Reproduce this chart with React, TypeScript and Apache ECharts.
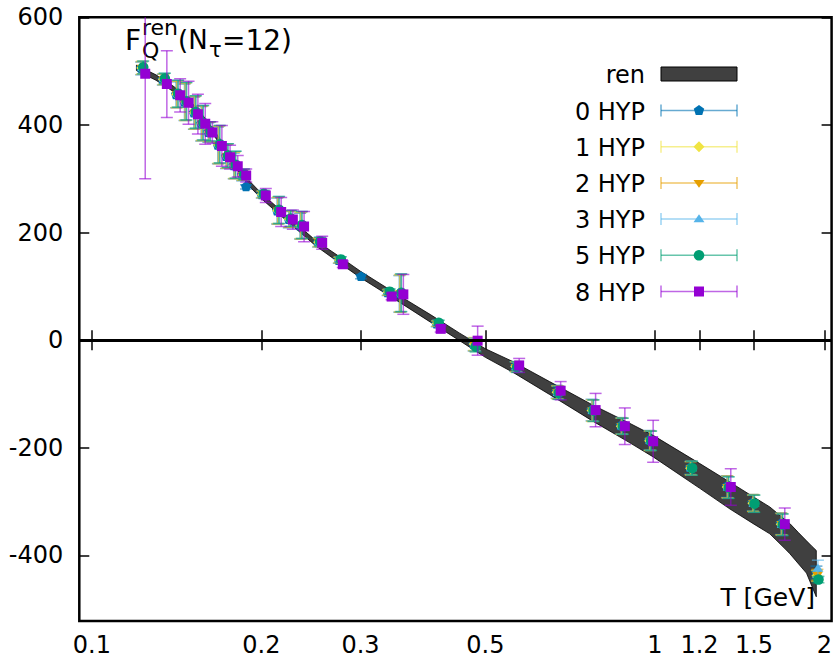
import { useEffect, useRef } from "react";
import * as echarts from "echarts";

// ---------------- data ----------------
const temperatures = [
  0.1244, 0.1359, 0.1435, 0.1485, 0.1543, 0.159, 0.1637, 0.1702, 0.176, 0.1816,
  0.188, 0.191, 0.2037, 0.2169, 0.2275, 0.2382, 0.2565, 0.2791, 0.3057, 0.3408,
  0.3575, 0.4165, 0.4844, 0.5741, 0.6802, 0.7847, 0.8844, 0.993, 1.174, 1.364,
  1.515, 1.701, 1.968,
];

const hyp0 = [505, 484, 456, 442, 422, 402, 386, 362, 341, 324, 306, 285, 270, 240, 224, 212, 181, 148, 118, 88, 86, 30, -8, -49, -96, -130, -159, -186, -237, -272, -302, -341, -432];
const err0 = [12, 10, 24, 34, 30, 32, 18, 34, 22, 24, 10, 4, 6, 24, 15, 24, 8, 5, 4, 5, 34, 5, 12, 9, 12, 20, 15, 18, 12, 20, 15, 20, 12];

const hyp1 = [506, 485, 457, 443, 423, 403, 387, 363, 342, 325, 307, null, 271, 241, 225, 213, 182, 149, null, 89, 87, 31, -7, -49, -97, -131, -160, -187, -238, -273, -303, -342, -438];
const err1 = [12, 10, 24, 34, 30, 32, 18, 34, 22, 24, 10, null, 6, 24, 15, 24, 8, 5, null, 5, 34, 5, 12, 9, 12, 20, 15, 18, 12, 20, 15, 20, 10];

const hyp2 = [506, 485, 457, 443, 423, 403, 387, 363, 342, 325, 307, null, 271, 241, 225, 213, 182, 149, null, 89, 87, 31, -8, -50, -97, -131, -160, -187, -238, -273, -303, -342, -436];
const err2 = [12, 10, 25, 35, 30, 32, 18, 35, 22, 25, 10, null, 6, 25, 15, 25, 8, 5, null, 5, 35, 5, 12, 9, 12, 20, 15, 18, 13, 20, 16, 20, 10];

const hyp3 = [506, 486, 458, 444, 424, 404, 388, 364, 343, 326, 308, null, 272, 242, 226, 214, 183, 150, null, 90, 88, 32, -8, -50, -98, -131, -160, -187, -238, -274, -304, -343, -425];
const err3 = [12, 10, 25, 35, 30, 32, 18, 35, 22, 25, 10, null, 6, 25, 15, 25, 8, 5, null, 5, 35, 5, 12, 9, 12, 20, 15, 18, 13, 20, 16, 20, 16];

const hyp5 = [507, 486, 458, 444, 424, 404, 388, 364, 343, 326, 308, null, 272, 242, 226, 214, 183, 150, null, 90, 88, 32, -12, -50, -98, -131, -160, -187, -238, -274, -304, -343, -445];
const err5 = [12, 10, 25, 35, 30, 32, 18, 35, 22, 25, 10, null, 6, 25, 15, 25, 8, 5, null, 5, 35, 5, 10, 10, 12, 20, 15, 18, 13, 20, 16, 20, 6];

const hyp8 = [495, 476, 455, 441, 420, 402, 386, 361, 340, 323, 306, null, 269, 238, 224, 211, 181, 141, null, 81, 85, 21, -1, -47, -94, -130, -160, -188, null, -273, null, -342, null];
const err8 = [195, 62, 31, 40, 37, 38, 20, 38, 22, 20, 12, null, 13, 27, 18, 28, 12, 6, null, 6, 37, 6, 27, 13, 17, 31, 34, 39, null, 34, null, 30, null];

// renormalized band ("ren")
const bandT = [0.12, 0.13, 0.14, 0.15, 0.16, 0.17, 0.18, 0.19, 0.2, 0.22, 0.25, 0.28, 0.3, 0.35, 0.4, 0.45, 0.5, 0.56, 0.65, 0.777, 0.9, 0.993, 1.2, 1.36, 1.5, 1.6, 1.7, 1.737, 1.8, 1.859, 1.9, 1.935];
const bandUpper = [511, 493, 471, 443, 409, 370, 331, 297, 273, 235, 185, 150, 128, 84, 47, 13, -16, -40, -77, -121, -154, -177, -229, -264, -292, -310, -333, -341, -358, -373, -383, -391];
const bandLower = [501, 483, 461, 433, 399, 360, 321, 287, 263, 225, 175, 138, 116, 72, 33, -1, -32, -60, -101, -151, -190, -217, -275, -314, -342, -360, -387, -397, -416, -433, -457, -477];

const xTicks = [0.1, 0.2, 0.3, 0.5, 1, 1.2, 1.5, 2];
const yTicks = [-400, -200, 0, 200, 400, 600];

const seriesNames = ["0 HYP", "1 HYP", "2 HYP", "3 HYP", "5 HYP", "8 HYP"];
const seriesValues = [hyp0, hyp1, hyp2, hyp3, hyp5, hyp8];
const seriesErrors = [err0, err1, err2, err3, err5, err8];

// ---------------- styles ----------------
const colors = ["#0072b2", "#f0e442", "#e69f00", "#56b4e9", "#009e73", "#9400d3"];
const markerKinds = ["pentagon", "diamond", "triangleDown", "triangleUp", "circle", "square"];
const xShift = [-4, -3.5, -3, -2.5, -2, 0];
const FONT = '"DejaVu Sans", sans-serif';

function rgba(hex: string, a: number) {
  const n = parseInt(hex.slice(1), 16);
  return `rgba(${(n >> 16) & 255},${(n >> 8) & 255},${n & 255},${a})`;
}

function marker(kind: string, cx: number, cy: number, color: string): any {
  const r = 5.5;
  const style = { fill: color };
  switch (kind) {
    case "pentagon": {
      const pts: number[][] = [];
      for (let k = 0; k < 5; k++) {
        const a = -Math.PI / 2 + (k * 2 * Math.PI) / 5;
        pts.push([cx + r * Math.cos(a), cy + r * Math.sin(a)]);
      }
      return { type: "polygon", shape: { points: pts }, style };
    }
    case "diamond":
      return { type: "polygon", shape: { points: [[cx, cy - r], [cx + r, cy], [cx, cy + r], [cx - r, cy]] }, style };
    case "triangleDown":
      return { type: "polygon", shape: { points: [[cx - r, cy - r * 0.55], [cx + r, cy - r * 0.55], [cx, cy + r * 0.9]] }, style };
    case "triangleUp":
      return { type: "polygon", shape: { points: [[cx - r, cy + r * 0.55], [cx + r, cy + r * 0.55], [cx, cy - r * 0.9]] }, style };
    case "circle":
      return { type: "circle", shape: { cx, cy, r: 5.3 }, style };
    default:
      return { type: "rect", shape: { x: cx - 5, y: cy - 5, width: 10, height: 10 }, style };
  }
}

function errorBarChildren(x: number, yTop: number, yBot: number, color: string, cap: number) {
  const s = { stroke: rgba(color, 0.6), lineWidth: 1.5 };
  return [
    { type: "line", shape: { x1: x, y1: yTop, x2: x, y2: yBot }, style: s },
    { type: "line", shape: { x1: x - cap, y1: yTop, x2: x + cap, y2: yTop }, style: s },
    { type: "line", shape: { x1: x - cap, y1: yBot, x2: x + cap, y2: yBot }, style: s },
  ];
}

function buildOption() {
  const axisFont = { fontSize: 24, fontFamily: FONT, color: "#000" };
  const tickStyle = { color: "#000", width: 1.5 };

  const hypSeries = seriesNames.map((name, si) => {
    const vals = seriesValues[si];
    const errs = seriesErrors[si];
    const data: number[][] = [];
    temperatures.forEach((t, i) => {
      if (vals[i] !== null && errs[i] !== null) data.push([t, vals[i] as number, errs[i] as number]);
    });
    return {
      name,
      type: "custom",
      clip: true,
      encode: { x: 0, y: 1 },
      data,
      renderItem: (_p: any, api: any) => {
        const t = api.value(0);
        const v = api.value(1);
        const e = api.value(2);
        const c = api.coord([t, v]);
        const top = api.coord([t, v + e]);
        const bot = api.coord([t, v - e]);
        const x = c[0] + xShift[si];
        return {
          type: "group",
          children: [
            ...errorBarChildren(x, top[1], bot[1], colors[si], 6),
            marker(markerKinds[si], x, c[1], colors[si]),
          ],
        };
      },
    };
  });

  const bandSeries = {
    name: "ren",
    type: "custom",
    clip: true,
    encode: { x: 0, y: [1, 2] },
    data: bandT.map((t, i) => [t, bandLower[i], bandUpper[i]]),
    renderItem: (p: any, api: any) => {
      if (p.dataIndex !== 0) return null;
      const pts: number[][] = [];
      bandT.forEach((t, i) => pts.push(api.coord([t, bandUpper[i]])));
      for (let i = bandT.length - 1; i >= 0; i--) pts.push(api.coord([bandT[i], bandLower[i]]));
      return { type: "polygon", shape: { points: pts }, style: { fill: "#404040", stroke: "#000", lineWidth: 0.8 } };
    },
    markLine: {
      silent: true,
      symbol: "none",
      label: { show: false },
      lineStyle: { color: "#000", width: 3, type: "solid" },
      data: [{ yAxis: 0 }],
    },
  };

  // legend (drawn as graphic, gnuplot style)
  const legendX = 645;
  const sampleL = 661;
  const sampleR = 737;
  const sampleC = 699;
  const legendEls: any[] = [
    { type: "text", x: legendX, y: 75, style: { text: "ren", align: "right", verticalAlign: "middle", fontSize: 24, fontFamily: FONT, fill: "#000" } },
    { type: "rect", shape: { x: sampleL, y: 67, width: sampleR - sampleL, height: 14 }, style: { fill: "#404040", stroke: "#000", lineWidth: 1 } },
  ];
  seriesNames.forEach((name, i) => {
    const y = 110.5 + 36.2 * i;
    legendEls.push({ type: "text", x: legendX, y: y + 1, style: { text: name, align: "right", verticalAlign: "middle", fontSize: 24, fontFamily: FONT, fill: "#000" } });
    const s = { stroke: rgba(colors[i], 0.6), lineWidth: 1.5 };
    legendEls.push({ type: "line", shape: { x1: sampleL, y1: y, x2: sampleR, y2: y }, style: s });
    legendEls.push({ type: "line", shape: { x1: sampleL, y1: y - 6, x2: sampleL, y2: y + 6 }, style: s });
    legendEls.push({ type: "line", shape: { x1: sampleR, y1: y - 6, x2: sampleR, y2: y + 6 }, style: s });
    legendEls.push(marker(markerKinds[i], sampleC, y, colors[i]));
  });

  const titleEls: any[] = [
    { type: "text", x: 125, y: 40, style: { text: "F", align: "left", verticalAlign: "middle", fontSize: 28, fontFamily: FONT, fill: "#000" } },
    { type: "text", x: 142, y: 27, style: { text: "ren", align: "left", verticalAlign: "middle", fontSize: 22, fontFamily: FONT, fill: "#000" } },
    { type: "text", x: 142, y: 50, style: { text: "Q", align: "left", verticalAlign: "middle", fontSize: 22, fontFamily: FONT, fill: "#000" } },
    { type: "text", x: 178, y: 40, style: { text: "(N", align: "left", verticalAlign: "middle", fontSize: 26, fontFamily: FONT, fill: "#000" } },
    { type: "text", x: 209, y: 50, style: { text: "τ", align: "left", verticalAlign: "middle", fontSize: 21, fontFamily: FONT, fill: "#000" } },
    { type: "text", x: 222, y: 40, style: { text: "=12)", align: "left", verticalAlign: "middle", fontSize: 28, fontFamily: FONT, fill: "#000" } },
    { type: "text", x: 815, y: 597, style: { text: "T [GeV]", align: "right", verticalAlign: "middle", fontSize: 25, fontFamily: FONT, fill: "#000" } },
  ];

  const fmtX = (v: number) => String(Number(Number(v).toPrecision(3)));

  return {
    animation: false,
    backgroundColor: "#fff",
    grid: { left: 79.3, right: 3, top: 17.3, bottom: 42, show: true, borderColor: "#000", borderWidth: 2.5, backgroundColor: "transparent" },
    xAxis: [
      {
        type: "log", logBase: 10, min: 0.095, max: 2.06, position: "bottom",
        axisLine: { show: false }, splitLine: { show: false }, minorTick: { show: false }, minorSplitLine: { show: false },
        axisTick: { show: true, inside: true, length: 10, lineStyle: tickStyle, customValues: xTicks },
        axisLabel: { ...axisFont, customValues: xTicks, formatter: fmtX, margin: 12 },
      },
      {
        type: "log", logBase: 10, min: 0.095, max: 2.06, position: "top",
        axisLine: { show: false }, splitLine: { show: false }, minorTick: { show: false },
        axisTick: { show: true, inside: true, length: 10, lineStyle: tickStyle, customValues: xTicks },
        axisLabel: { show: false },
      },
    ],
    yAxis: [
      {
        type: "value", min: -522, max: 600, position: "left",
        axisLine: { show: false }, splitLine: { show: false },
        axisTick: { show: true, inside: true, length: 10, lineStyle: tickStyle, customValues: yTicks },
        axisLabel: { ...axisFont, customValues: yTicks, margin: 16 },
      },
      {
        type: "value", min: -522, max: 600, position: "right",
        axisLine: { show: false }, splitLine: { show: false },
        axisTick: { show: true, inside: true, length: 10, lineStyle: tickStyle, customValues: yTicks },
        axisLabel: { show: false },
      },
    ],
    graphic: [...legendEls, ...titleEls],
    series: [bandSeries, ...hypSeries],
  };
}

export default function App() {
  const ref = useRef<HTMLDivElement>(null);
  useEffect(() => {
    document.body.style.margin = "0";
    if (!ref.current) return;
    const chart = echarts.init(ref.current, undefined, { renderer: "svg" });
    chart.setOption(buildOption() as any);
    return () => chart.dispose();
  }, []);
  return <div ref={ref} style={{ position: "absolute", left: 0, top: 0, width: 835, height: 663 }} />;
}
